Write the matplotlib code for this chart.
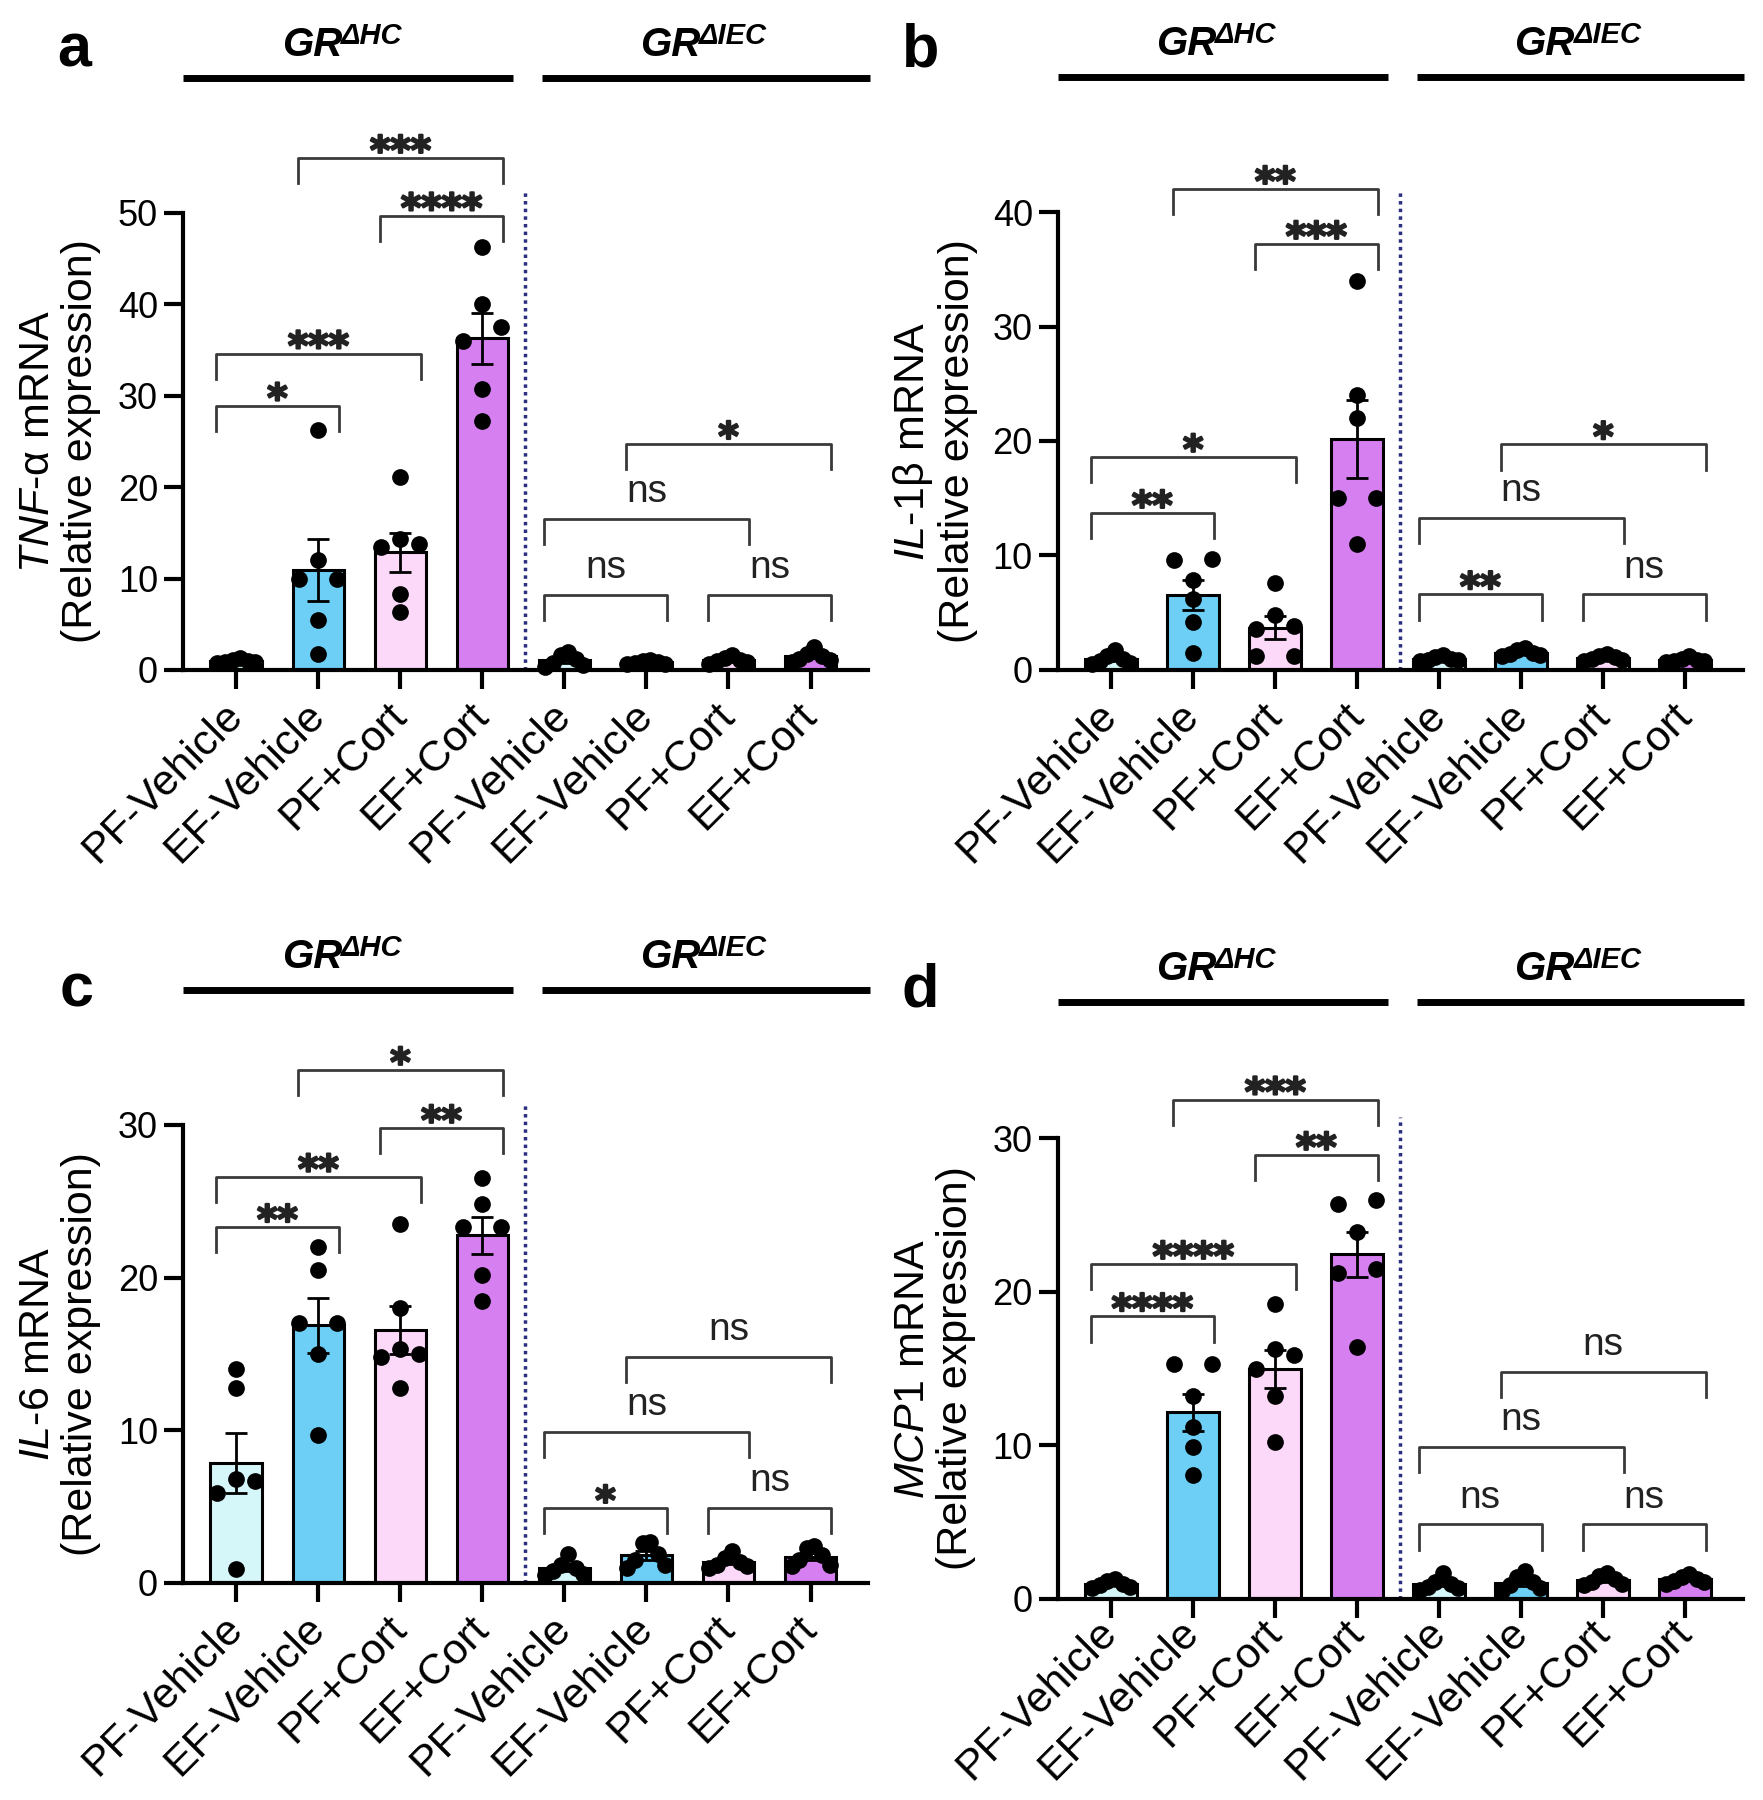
import matplotlib
matplotlib.use("Agg")
import matplotlib.pyplot as plt
import matplotlib.patheffects as pe
import numpy as np
from matplotlib.transforms import blended_transform_factory

plt.rcParams['font.family'] = ['Liberation Sans', 'DejaVu Sans']
plt.rcParams['mathtext.fontset'] = 'custom'
plt.rcParams['mathtext.rm'] = 'Liberation Sans'
plt.rcParams['mathtext.it'] = 'Liberation Sans:italic'
plt.rcParams['mathtext.bf'] = 'Liberation Sans:bold'
plt.rcParams['mathtext.bfit'] = 'Liberation Sans:italic:bold'

# ---- data ----
groups = ["PF-Vehicle", "EF-Vehicle", "PF+Cort", "EF+Cort",
          "PF-Vehicle", "EF-Vehicle", "PF+Cort", "EF+Cort"]
strains = ["\u0394HC", "\u0394IEC"]

tnf_points = [
    [1.3, 1.1, 1.0, 0.9, 0.9, 0.8],
    [26.3, 12.0, 10.0, 10.0, 5.5, 1.8],
    [21.1, 14.3, 13.8, 13.5, 8.3, 6.3],
    [46.3, 40.0, 37.5, 36.0, 30.7, 27.2],
    [2.0, 1.6, 1.2, 0.8, 0.5, 0.3],
    [1.1, 1.0, 0.9, 0.8, 0.7, 0.6],
    [1.6, 1.3, 1.1, 1.0, 0.9, 0.7],
    [2.5, 1.8, 1.5, 1.2, 1.1, 0.9],
]
il1b_points = [
    [1.7, 1.2, 1.0, 0.8, 0.6, 0.5],
    [9.7, 9.6, 7.9, 6.2, 4.2, 1.5],
    [7.6, 4.8, 3.8, 3.6, 1.2, 1.2],
    [34.0, 24.0, 22.0, 15.0, 15.0, 11.0],
    [1.3, 1.1, 1.0, 0.9, 0.9, 0.8],
    [1.9, 1.7, 1.5, 1.4, 1.3, 1.2],
    [1.4, 1.2, 1.1, 1.0, 0.9, 0.8],
    [1.2, 1.0, 0.9, 0.8, 0.8, 0.7],
]
il6_points = [
    [14.0, 12.8, 6.8, 6.7, 5.9, 0.9],
    [22.0, 20.5, 17.0, 17.0, 15.0, 9.7],
    [23.5, 18.0, 15.3, 15.0, 14.8, 12.8],
    [26.5, 24.8, 23.3, 23.3, 20.2, 18.5],
    [1.9, 1.2, 1.0, 0.8, 0.6, 0.5],
    [2.7, 2.6, 1.9, 1.5, 1.2, 1.0],
    [2.1, 1.6, 1.4, 1.2, 1.1, 1.0],
    [2.4, 2.3, 1.8, 1.5, 1.2, 1.1],
]
mcp1_points = [
    [1.3, 1.2, 1.0, 0.9, 0.8, 0.7],
    [15.3, 15.3, 13.2, 11.2, 9.9, 8.1],
    [19.2, 16.3, 15.9, 15.0, 13.2, 10.2],
    [26.0, 25.7, 23.9, 21.5, 21.2, 16.4],
    [1.7, 1.1, 1.0, 0.8, 0.7, 0.6],
    [1.8, 1.4, 1.1, 0.9, 0.7, 0.5],
    [1.7, 1.5, 1.3, 1.1, 1.0, 0.9],
    [1.6, 1.4, 1.3, 1.2, 1.1, 1.0],
]

# comparisons: (first bar, second bar, label)
tnf_tests = [(0, 1, "*"), (0, 2, "***"), (2, 3, "****"), (1, 3, "***"),
             (4, 5, "ns"), (6, 7, "ns"), (4, 6, "ns"), (5, 7, "*")]
il1b_tests = [(0, 1, "**"), (0, 2, "*"), (2, 3, "***"), (1, 3, "**"),
              (4, 5, "**"), (6, 7, "ns"), (4, 6, "ns"), (5, 7, "*")]
il6_tests = [(0, 1, "**"), (0, 2, "**"), (2, 3, "**"), (1, 3, "*"),
             (4, 5, "*"), (6, 7, "ns"), (4, 6, "ns"), (5, 7, "ns")]
mcp1_tests = [(0, 1, "****"), (0, 2, "****"), (2, 3, "**"), (1, 3, "***"),
              (4, 5, "ns"), (6, 7, "ns"), (4, 6, "ns"), (5, 7, "ns")]

# ---- layout ----
tnf_bracket_y = [28.9, 34.6, 49.7, 56.0, 8.2, 8.2, 16.5, 24.7]
il1b_bracket_y = [13.7, 18.6, 37.2, 42.0, 6.6, 6.6, 13.3, 19.7]
il6_bracket_y = [23.3, 26.6, 29.8, 33.6, 4.9, 4.9, 9.9, 14.8]
mcp1_bracket_y = [18.4, 21.8, 28.9, 32.5, 4.85, 4.85, 9.9, 14.8]

bar_colors = ["#d6f7fa", "#6dcff5", "#fcd8f9", "#d67ff0"] * 2
XMIN, XMAX = -0.65, 7.7
MARKER_PX = 16.0


def swarm_offsets(ax, x, values):
    # spread points with close values sideways, highest ones in the middle
    pix = ax.transData.transform(np.column_stack([np.full(len(values), x), values]))
    ypix = pix[:, 1]
    order = np.argsort(ypix)
    clusters = []
    for k in order:
        if clusters and ypix[k] - ypix[clusters[-1][-1]] < 0.9 * MARKER_PX:
            clusters[-1].append(k)
        else:
            clusters.append([k])
    px_per_x = ax.transData.transform((1, 0))[0] - ax.transData.transform((0, 0))[0]
    offsets = np.zeros(len(values))
    for c in clusters:
        if len(c) > 1:
            spread = np.linspace(-19, 19, len(c))
            spread = spread[np.argsort(-np.abs(spread), kind="stable")]
            for k, dx in zip(c, spread):
                offsets[k] = dx / px_per_x
    return offsets


def add_bracket(ax, i, j, y, label, ymax):
    leg = 0.055 * ymax
    x0, x1 = i - 0.25, j + 0.25
    ax.plot([x0, x0, x1, x1], [y - leg, y, y, y - leg], color="#3a3a3a",
            lw=2, clip_on=False, zorder=6)
    if label == "ns":
        ax.annotate(label, xy=((x0 + x1) / 2, y), xytext=(0, 12),
                    textcoords="offset points", ha="center", va="baseline",
                    fontsize=28, color="#222222", annotation_clip=False)
    else:
        ax.annotate(label, xy=((x0 + x1) / 2, y), xytext=(0, -4),
                    textcoords="offset points", ha="center", va="baseline",
                    fontsize=28, fontweight="bold", color="#222222",
                    family="DejaVu Sans", annotation_clip=False,
                    path_effects=[pe.withStroke(linewidth=1.6, foreground="#222222")])


def add_header(ax, x0, x1, strain):
    trans = blended_transform_factory(ax.transData, ax.transAxes)
    ax.plot([x0, x1], [1.295, 1.295], transform=trans, color="black", lw=5,
            clip_on=False, solid_capstyle="butt")
    gr = ax.annotate("GR", xy=((x0 + x1) / 2, 1.343), xycoords=trans,
                     xytext=(-26, 0), textcoords="offset points",
                     ha="center", va="baseline", fontsize=29,
                     fontweight="bold", fontstyle="italic",
                     annotation_clip=False)
    ax.annotate(strain, xy=(1, 1), xycoords=gr, xytext=(-1, 3),
                textcoords="offset points", ha="left", va="top",
                fontsize=21, fontweight="bold", fontstyle="italic",
                annotation_clip=False)


def draw_panel(ax, points, tests, bracket_y, ymax, ystep, ylabel, label_pad=14):
    ax.set_xlim(XMIN, XMAX)
    ax.set_ylim(0, ymax)
    for x, vals in enumerate(points):
        vals = np.array(vals)
        mean = vals.mean()
        sem = vals.std(ddof=1) / np.sqrt(len(vals))
        ax.bar(x, mean, width=0.63, color=bar_colors[x], edgecolor="black",
               linewidth=2.2, zorder=2)
        ax.errorbar(x, mean, yerr=sem, color="black", capsize=8, elinewidth=2,
                    capthick=2, zorder=3)
        dx = swarm_offsets(ax, x, vals)
        ax.scatter(x + dx, vals, s=145, color="black", zorder=4, clip_on=False,
                   linewidths=0)
    for (i, j, label), y in zip(tests, bracket_y):
        add_bracket(ax, i, j, y, label, ymax)

    ax.plot([3.52, 3.52], [0, 1.045 * ymax], ls=(0, (1, 1.2)), lw=2.5,
            color="#2b2f7f", clip_on=False, zorder=1)

    ax.spines["top"].set_visible(False)
    ax.spines["right"].set_visible(False)
    ax.spines["left"].set_linewidth(3)
    ax.spines["bottom"].set_linewidth(3)
    ax.set_yticks(np.arange(0, ymax + 1, ystep))
    ax.tick_params(axis="y", labelsize=26, length=14, width=3, pad=4)
    ax.set_xticks(range(len(groups)))
    ax.set_xticklabels(groups, rotation=45, ha="right", va="center",
                       rotation_mode="anchor", fontsize=31)
    ax.tick_params(axis="x", length=14, width=3, pad=label_pad)
    ax.set_ylabel(ylabel, fontsize=31, linespacing=1.1, va="center")
    ax.yaxis.set_label_coords(-0.18, 0.5)

    add_header(ax, XMIN, 3.37, strains[0])
    add_header(ax, 3.73, 7.72, strains[1])


fig = plt.figure(figsize=(17.63, 18.0), dpi=100)
ax_a = fig.add_axes([0.1038, 0.6278, 0.3885, 0.2539])
ax_b = fig.add_axes([0.6000, 0.6278, 0.3885, 0.2544])
ax_c = fig.add_axes([0.1038, 0.1206, 0.3885, 0.2544])
ax_d = fig.add_axes([0.6000, 0.1117, 0.3885, 0.2560])

draw_panel(ax_a, tnf_points, tnf_tests, tnf_bracket_y, 50, 10,
           "$\\mathit{TNF}$-\u03b1 mRNA\n(Relative expression)")
draw_panel(ax_b, il1b_points, il1b_tests, il1b_bracket_y, 40, 10,
           "$\\mathit{IL}$-$\\mathit{1}$\u03b2 mRNA\n(Relative expression)")
draw_panel(ax_c, il6_points, il6_tests, il6_bracket_y, 30, 10,
           "$\\mathit{IL}$-$\\mathit{6}$ mRNA\n(Relative expression)")
draw_panel(ax_d, mcp1_points, mcp1_tests, mcp1_bracket_y, 30, 10,
           "$\\mathit{MCP1}$ mRNA\n(Relative expression)", label_pad=6)

for letter, x, y in [("a", 0.0323, 0.9628), ("b", 0.5116, 0.9628),
                     ("c", 0.0340, 0.4411), ("d", 0.5116, 0.4411)]:
    fig.text(x, y, letter, fontsize=44, fontweight="bold", ha="left",
             va="baseline")

fig.savefig("out.png", dpi=100)
